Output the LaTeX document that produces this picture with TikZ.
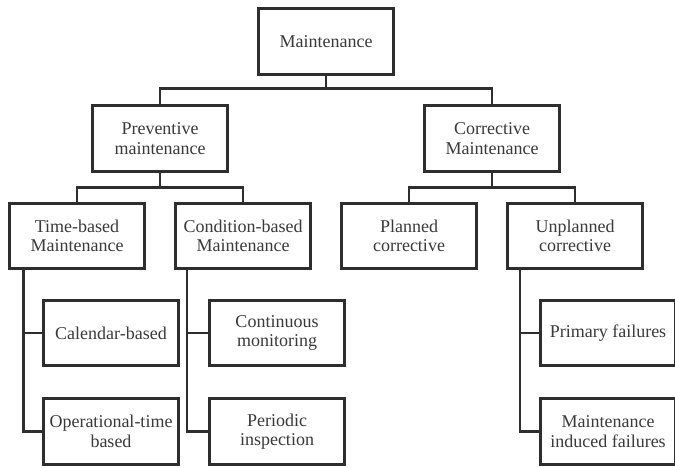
\documentclass[tikz,border=0pt]{standalone}
\usepackage{fontspec}
\setmainfont{Liberation Serif}
\definecolor{ink}{HTML}{2E2E2E}
\definecolor{txt}{HTML}{3A3A3A}
\begin{document}
\begin{tikzpicture}[x=1pt,y=-1pt,
  box/.style={draw=ink, line width=2.9pt, fill=white, minimum width=135.2pt,
    minimum height=65.8pt, align=center, inner sep=2pt, text=txt,
    font=\fontsize{18}{19.5}\selectfont},
  link/.style={draw=ink, line width=2.9pt, line cap=rect}]
\useasboundingbox (0,0) rectangle (675,468);
\clip (0,0) rectangle (675,468);
\fill[white] (0,0) rectangle (675,468);

% top level
\node[box] (m) at (326,41.5) {Maintenance};
% second level
\node[box] (p) at (160,138.5) {Preventive\\maintenance};
\node[box] (c) at (492,138.5) {Corrective\\Maintenance};
% third level
\node[box] (t) at (77,236) {Time-based\\Maintenance};
\node[box] (cb) at (243,236) {Condition-based\\Maintenance};
\node[box] (pc) at (409,236) {Planned\\corrective};
\node[box] (uc) at (575,236) {Unplanned\\corrective};
% leaves
\node[box] (cal) at (111,333) {Calendar-based};
\node[box] (op) at (111,431.5) {Operational-time\\based};
\node[box] (cm) at (277,333) {Continuous\\monitoring};
\node[box] (pi) at (277,431.5) {Periodic\\inspection};
\node[box] (pf) at (608,333) {Primary failures};
\node[box] (mf) at (608,431.5) {Maintenance\\induced failures};

% tree connectors
\draw[link] (m.south) -- ++(0,12.5) coordinate (mb);
\draw[link] (p.north) |- (mb) -| (c.north);
\draw[link] (p.south) -- ++(0,14.5) coordinate (pb);
\draw[link] (t.north) |- (pb) -| (cb.north);
\draw[link] (c.south) -- ++(0,14.5) coordinate (cbus);
\draw[link] (pc.north) |- (cbus) -| (uc.north);
% side branches
\draw[link] ([xshift=15.5pt]t.south west) |- (op.west);
\draw[link] ([xshift=15.5pt]t.south west) |- (cal.west);
\draw[link] ([xshift=13pt]cb.south west) |- (pi.west);
\draw[link] ([xshift=13pt]cb.south west) |- (cm.west);
\draw[link] ([xshift=14pt]uc.south west) |- (mf.west);
\draw[link] ([xshift=14pt]uc.south west) |- (pf.west);
\end{tikzpicture}
\end{document}
